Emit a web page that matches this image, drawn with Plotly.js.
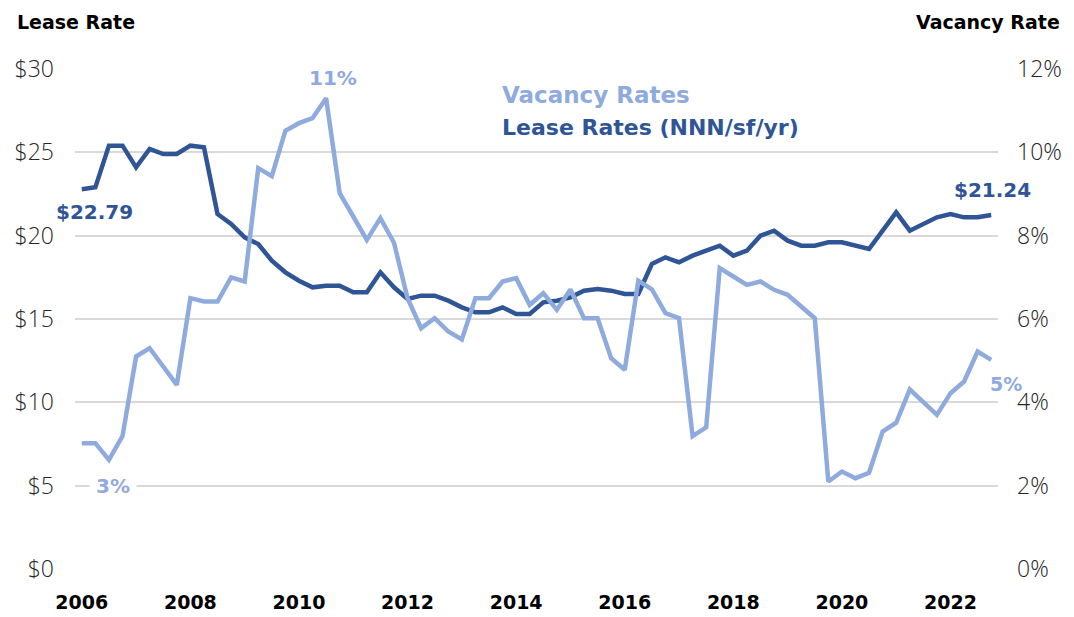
<!DOCTYPE html>
<html>
<head>
<meta charset="utf-8">
<script src="https://cdn.plot.ly/plotly-3.0.1.min.js"></script>
<style>html,body{margin:0;padding:0;background:#fff;}#chart{width:1074px;height:617px;}</style>
</head>
<body>
<div id="chart"></div>
<script>
// Quarterly periods 2006 Q1 .. 2022 Q4
const startYear = 2006;
const endYear = 2022;
const quarters = [];
for (let y = startYear; y <= endYear; y++) {
  for (let q = 0; q < 4; q++) quarters.push(y + q * 0.25);
}

// Lease rates ($ NNN/sf/yr)
const leaseRates = [
  22.79, 22.9, 25.4, 25.4, 24.1, 25.2, 24.9, 24.9,
  25.4, 25.3, 21.3, 20.7, 19.9, 19.5, 18.5, 17.8,
  17.3, 16.9, 17.0, 17.0, 16.6, 16.6, 17.8, 16.9,
  16.2, 16.4, 16.4, 16.1, 15.7, 15.4, 15.4, 15.7,
  15.3, 15.3, 16.0, 16.1, 16.3, 16.7, 16.8, 16.7,
  16.5, 16.5, 18.3, 18.7, 18.4, 18.8, 19.1, 19.4,
  18.8, 19.1, 20.0, 20.3, 19.7, 19.4, 19.4, 19.6,
  19.6, 19.4, 19.2, 20.3, 21.4, 20.3, 20.7, 21.1,
  21.3, 21.1, 21.1, 21.24
];

// Vacancy rates (%)
const vacancyRates = [
  3.02, 3.02, 2.62, 3.19, 5.1, 5.3, 4.86, 4.42,
  6.5, 6.42, 6.42, 7.0, 6.9, 9.62, 9.43, 10.52,
  10.7, 10.82, 11.3, 9.02, 8.46, 7.9, 8.42, 7.83,
  6.5, 5.78, 6.02, 5.7, 5.51, 6.5, 6.5, 6.9,
  6.98, 6.34, 6.62, 6.22, 6.71, 6.02, 6.02, 5.06,
  4.78, 6.92, 6.71, 6.14, 6.02, 3.19, 3.4, 7.22,
  7.02, 6.82, 6.9, 6.7, 6.58, 6.3, 6.02, 2.1,
  2.34, 2.18, 2.31, 3.3, 3.51, 4.31, 4.02, 3.7,
  4.22, 4.5, 5.22, 5.02
];

const xTickVals = [2006, 2008, 2010, 2012, 2014, 2016, 2018, 2020, 2022];
const xTickText = ['2006', '2008', '2010', '2012', '2014', '2016', '2018', '2020', '2022'];
const leaseTicks = [0, 5, 10, 15, 20, 25, 30];
const leaseTickText = ['$0', '$5', '$10', '$15', '$20', '$25', '$30'];
const vacancyTicks = [0, 2, 4, 6, 8, 10, 12];
const vacancyTickText = ['0%', '2%', '4%', '6%', '8%', '10%', '12%'];

const DARK = '#2F5597';
const LIGHT = '#8FAADC';
const BOLD = 'DejaVu Sans, sans-serif';
const TICK = 'Open Sans, Liberation Sans, sans-serif';

const last = quarters.length - 1;
const peakIdx = vacancyRates.indexOf(Math.max(...vacancyRates));

const traces = [
  {x: quarters, y: leaseRates, type: 'scatter', mode: 'lines', name: 'Lease Rates (NNN/sf/yr)',
   line: {color: DARK, width: 4.5}, yaxis: 'y', hoverinfo: 'skip'},
  {x: quarters, y: vacancyRates, type: 'scatter', mode: 'lines', name: 'Vacancy Rates',
   line: {color: LIGHT, width: 4.5}, yaxis: 'y2', hoverinfo: 'skip'}
];

const annFont = (c, s) => ({family: BOLD, size: s, color: c, weight: 'bold'});

const layout = {
  width: 1074, height: 617,
  margin: {l: 75, r: 76, t: 69, b: 48},
  paper_bgcolor: '#fff', plot_bgcolor: '#fff',
  showlegend: false,
  xaxis: {
    range: [2005.875, 2022.875], tickvals: xTickVals, ticktext: xTickText,
    showgrid: false, zeroline: false, showline: false, ticks: '',
    tickfont: {family: BOLD, size: 19, color: '#000', weight: 'bold'},
    ticklabelstandoff: 20, fixedrange: true
  },
  yaxis: {
    range: [0, 30], tickvals: leaseTicks, ticktext: leaseTickText,
    showgrid: true, gridcolor: '#D9D9D9', gridwidth: 2, zeroline: false, showline: false, ticks: '',
    tickfont: {family: TICK, size: 23, color: '#262626', weight: 300},
    ticklabelstandoff: 20, fixedrange: true
  },
  yaxis2: {
    range: [0, 12], tickvals: vacancyTicks, ticktext: vacancyTickText, overlaying: 'y', side: 'right',
    showgrid: false, zeroline: false, showline: false, ticks: '',
    tickfont: {family: TICK, size: 23, color: '#262626', weight: 300},
    ticklabelstandoff: 18, fixedrange: true
  },
  annotations: [
    {xref: 'paper', yref: 'paper', x: -0.065, y: 1.094, xanchor: 'left', yanchor: 'middle',
     text: 'Lease Rate', showarrow: false, font: annFont('#000', 19)},
    {xref: 'paper', yref: 'paper', x: 1.0693, y: 1.094, xanchor: 'right', yanchor: 'middle',
     text: 'Vacancy Rate', showarrow: false, font: annFont('#000', 19)},
    {xref: 'paper', yref: 'paper', x: 0.4605, y: 0.948, xanchor: 'left', yanchor: 'middle',
     text: 'Vacancy Rates', showarrow: false, font: annFont(LIGHT, 23)},
    {xref: 'paper', yref: 'paper', x: 0.4605, y: 0.884, xanchor: 'left', yanchor: 'middle',
     text: 'Lease Rates (NNN/sf/yr)', showarrow: false, font: annFont(DARK, 22)},
    {xref: 'x', yref: 'y', x: quarters[0], y: leaseRates[0], xshift: 13, yshift: -23,
     text: '$' + leaseRates[0].toFixed(2), showarrow: false, font: annFont(DARK, 20)},
    {xref: 'x', yref: 'y', x: quarters[last], y: leaseRates[last], xshift: 1, yshift: 25,
     text: '$' + leaseRates[last].toFixed(2), showarrow: false, font: annFont(DARK, 20)},
    {xref: 'x', yref: 'y2', x: quarters[peakIdx], y: vacancyRates[peakIdx], xshift: 7, yshift: 20,
     text: Math.round(vacancyRates[peakIdx]) + '%', showarrow: false, font: annFont(LIGHT, 20),
     bgcolor: '#fff', borderpad: 6},
    {xref: 'x', yref: 'y2', x: quarters[0], y: vacancyRates[0], xshift: 31, yshift: -43,
     text: Math.round(vacancyRates[0]) + '%', showarrow: false, font: annFont(LIGHT, 20),
     bgcolor: '#fff', borderpad: 6},
    {xref: 'x', yref: 'y2', x: quarters[last], y: vacancyRates[last], xshift: 15, yshift: -24,
     text: Math.round(vacancyRates[last]) + '%', showarrow: false, font: annFont(LIGHT, 19)}
  ]
};

Plotly.newPlot('chart', traces, layout, {displayModeBar: false, staticPlot: true});
</script>
</body>
</html>
